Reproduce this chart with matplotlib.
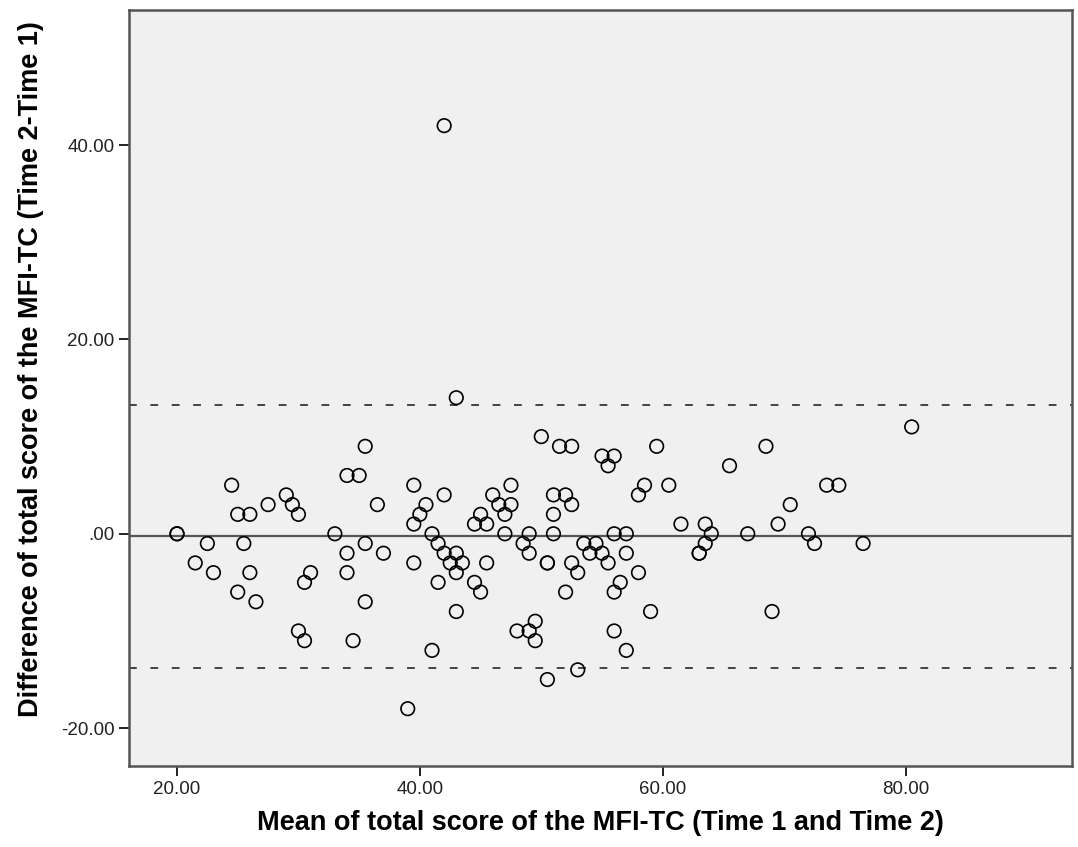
import matplotlib.pyplot as plt
from matplotlib.ticker import FixedLocator

plt.rcParams['font.family'] = ['Liberation Sans', 'DejaVu Sans']

# Bland-Altman data: mean of Time 1 and Time 2, difference (Time 2 - Time 1)
mean_score = [
    20, 20, 21.5, 22.5, 23, 24.5, 25, 26, 25.5, 25, 26, 26.5, 27.5, 29, 29.5,
    30, 30, 30.5, 31, 30.5, 33, 34, 35, 35.5, 36.5, 34, 35.5, 37, 34, 35.5,
    34.5, 39, 39.5, 40, 39.5, 40.5, 42, 41, 41.5, 42, 43, 42.5, 43.5, 43,
    39.5, 41.5, 43, 41, 44.5, 45, 44.5, 45, 42, 43,
    45.5, 45.5, 46, 46.5, 47, 47.5, 47.5, 47, 48.5, 49, 49, 50.5, 50.5, 50,
    51.5, 52.5, 51, 52, 52.5, 51, 51, 52.5, 53, 52, 53.5, 54.5, 54, 55, 55.5,
    55, 56, 55.5, 56, 57, 57, 56.5, 56, 58, 58.5, 58, 59.5, 60.5, 59, 56, 57,
    48, 49, 49.5, 49.5, 53, 50.5, 61.5, 63.5, 64, 63.5, 63, 63, 65.5, 67,
    68.5, 69.5, 69,
    70.5, 72, 72.5, 73.5, 74.5, 76.5, 80.5,
]
diff_score = [
    0, 0, -3, -1, -4, 5, 2, 2, -1, -6, -4, -7, 3, 4, 3,
    2, -10, -11, -4, -5, 0, 6, 6, 9, 3, -2, -1, -2, -4, -7,
    -11, -18, 5, 2, 1, 3, 4, 0, -1, -2, -2, -3, -3, -4,
    -3, -5, -8, -12, 1, 2, -5, -6, 42, 14,
    1, -3, 4, 3, 2, 5, 3, 0, -1, 0, -2, -3, -3, 10,
    9, 9, 4, 4, 3, 2, 0, -3, -4, -6, -1, -1, -2, -2, -3,
    8, 8, 7, 0, 0, -2, -5, -6, -4, 5, 4, 9, 5, -8, -10, -12,
    -10, -10, -9, -11, -14, -15, 1, 1, 0, -1, -2, -2, 7, 0,
    9, 1, -8,
    3, 0, -1, 5, 5, -1, 11,
]

mean_diff = -0.25
upper_loa = 13.3
lower_loa = -13.85

x_ticks = [20, 40, 60, 80]
x_tick_labels = ["20.00", "40.00", "60.00", "80.00"]
y_ticks = [-20, 0, 20, 40]
y_tick_labels = ["-20.00", ".00", "20.00", "40.00"]

fig = plt.figure(figsize=(10.78, 8.47), dpi=100)
ax = fig.add_axes([0.1197, 0.0956, 0.8747, 0.8926])
ax.set_facecolor("#f0f0f0")

ax.axhline(mean_diff, color="#555555", linewidth=1.6, zorder=1)
ax.axhline(upper_loa, color="#444444", linewidth=1.4, linestyle=(0, (4, 7)), zorder=1)
ax.axhline(lower_loa, color="#444444", linewidth=1.4, linestyle=(0, (4, 7)), zorder=1)

ax.scatter(mean_score, diff_score, s=95, facecolors="none", edgecolors="black",
           linewidths=1.2, zorder=3)

ax.set_xlim(16.05, 93.7)
ax.set_ylim(-23.9, 53.9)

ax.set_xticks(x_ticks)
ax.set_xticklabels(x_tick_labels)
ax.set_yticks(y_ticks)
ax.set_yticklabels(y_tick_labels)
ax.yaxis.set_minor_locator(FixedLocator([lower_loa, upper_loa]))
ax.tick_params(axis="y", which="minor", direction="in", length=4, width=1.2, color="#444444")
ax.tick_params(axis="both", which="major", direction="out", length=7.5, width=1.4,
               color="#222222", labelsize=13.5, labelcolor="#222222", pad=3)

for side in ["top", "right", "bottom", "left"]:
    ax.spines[side].set_color("#555555")
    ax.spines[side].set_linewidth(1.8)

ax.set_xlabel("Mean of total score of the MFI-TC (Time 1 and Time 2)",
              fontsize=19.5, fontweight="bold", labelpad=9)
ax.set_ylabel("Difference of total score of the MFI-TC (Time 2-Time 1)",
              fontsize=19.5, fontweight="bold")
ax.yaxis.set_label_coords(-0.09, 0.525)

plt.savefig("out.png", dpi=100)
